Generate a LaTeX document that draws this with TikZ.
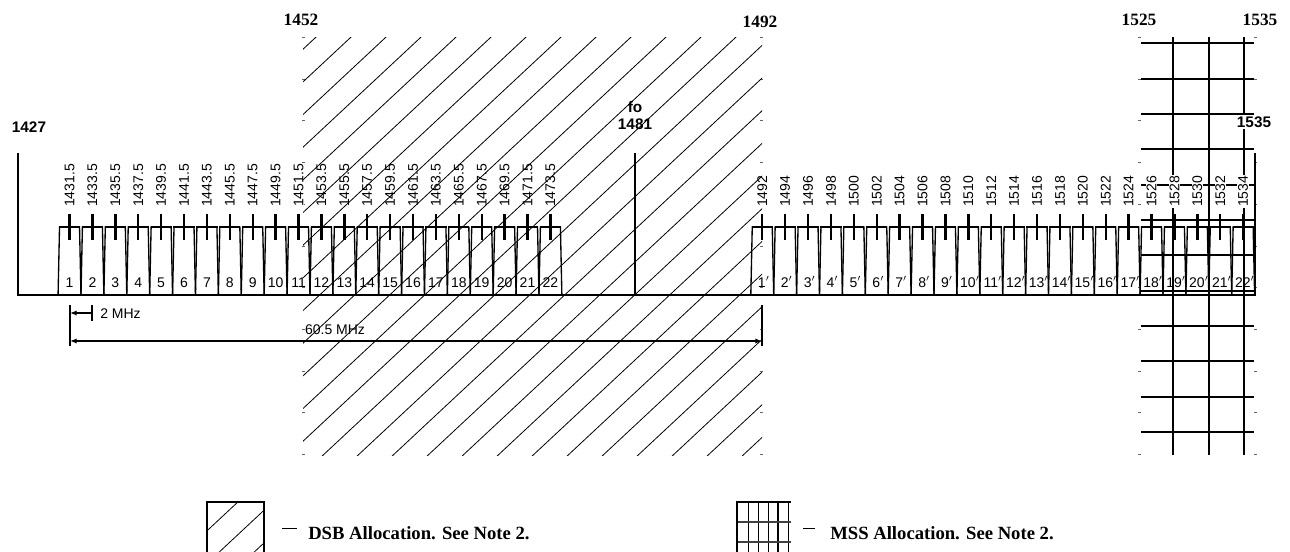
\documentclass[tikz,border=0pt]{standalone}
\usepackage{fontspec}
\setmainfont{Liberation Serif}
\setsansfont{Liberation Sans}
\usetikzlibrary{arrows.meta}
\begin{document}
\begin{tikzpicture}[x=0.75pt,y=-0.75pt,
  axisln/.style={line width=2.2pt},
  boxside/.style={line width=1pt},
  boxtop/.style={line width=1.6pt},
  tickln/.style={line width=1.8pt},
  gridln/.style={line width=0.9pt},
  hatchln/.style={line width=0.6pt},
  tilemark/.style={line width=0.6pt, black!60},
  freq/.style={font=\sffamily\fontsize{10.5}{12}\selectfont, rotate=90, anchor=west, inner sep=0.6pt, fill=white},
  chnum/.style={font=\sffamily\fontsize{10.5}{12}\selectfont, inner sep=0pt, anchor=base},
  sbold/.style={font=\sffamily\bfseries\fontsize{11.5}{12.75}\selectfont, align=center, inner sep=1pt},
  toplbl/.style={font=\bfseries\fontsize{13}{15}\selectfont, inner sep=0pt},
  dimtext/.style={font=\sffamily\fontsize{10.5}{12}\selectfont, inner sep=0pt},
  legtext/.style={font=\bfseries\fontsize{14}{16}\selectfont, anchor=west, inner sep=0pt},
  dimln/.style={line width=1.6pt},
]
\useasboundingbox (0,0) rectangle (1290,551);
\clip (0,0) rectangle (1290,551);
\newcommand{\myhatch}{%
  \foreach \k in {-3,...,27} {
    \draw[hatchln] ({410+35*\k},-18) -- ({350+35*\k-620},616.67);
  }%
}
% MSS grid
\foreach \y in {43,79,114,149,185,220,255,291,326,361,397,432}
  \draw[gridln] (1141,\y) -- (1254,\y);
\foreach \x in {1173,1209,1244}
  \draw[gridln] (\x,37) -- (\x,455);
% tile marks
\foreach \y in {37,79,120,162,204,246,287,329,371,412,454} {
  \draw[tilemark] (302,\y) -- (305,\y);
  \draw[tilemark] (760,\y) -- (763,\y);
  \draw[tilemark] (1138,\y) -- (1141,\y);
  \draw[tilemark] (1254,\y) -- (1257,\y);
}
% axes
\coordinate (bl) at (18,295);
\coordinate (br) at (1255,295);
\draw[axisln] (18,153) -- (bl) -- (br) -- (1255,153);
\draw[line width=1.8pt] (635,153) -- (635,295);
% left channels
\foreach \i in {1,...,22} {
  \pgfmathsetmacro\xc{18+(2.5+2*\i)*11.45}
  \draw[boxside] (\xc-11.45,295) -- (\xc-10,227) -- (\xc+10,227) -- (\xc+11.45,295);
  \draw[boxtop] (\xc-10.6,227) -- (\xc+10.6,227);
  \draw[tickln] (\xc,214) -- (\xc,240);
  \node[freq] (fl\i) at (\xc,208) {\the\numexpr1429+2*\i\relax.5};
  \node[chnum] (nl\i) at (\xc,287) {\i};
}
% right channels
\foreach \i in {1,...,22} {
  \pgfmathsetmacro\xc{18+(63+2*\i)*11.45}
  \draw[boxside] (\xc-11.45,295) -- (\xc-10,227) -- (\xc+10,227) -- (\xc+11.45,295);
  \draw[boxtop] (\xc-10.6,227) -- (\xc+10.6,227);
  \draw[tickln] (\xc,214) -- (\xc,240);
  \node[freq] (fr\i) at (\xc,208) {\the\numexpr1490+2*\i\relax};
  \node[chnum] (nr\i) at (\xc+1.5,287) {\i$'$};
}
% labels
\node[toplbl] (t1452) at (301,20) {1452};
\node[toplbl] (t1492) at (760,22) {1492};
\node[toplbl] (t1525) at (1139,20) {1525};
\node[toplbl] (t1535) at (1260,20) {1535};
\node[sbold] (l1427) at (29,127) {1427};
\node[sbold] (lfo) at (635,116) {fo\\1481};
\node[sbold, fill=white] (l1535) at (1254,122) {1535};
% dimensions
\coordinate (d2a) at (70,313);
\coordinate (d2b) at (92,313);
\draw[line width=1.6pt] (70,305) -- (70,346);
\draw[line width=1.6pt] (92,305) -- (92,321);
\draw[dimln, {Latex[length=5pt,width=4pt]}-] (d2a) -- (d2b);
\node[dimtext, anchor=west] (t2) at (100,314) {2 MHz};
\coordinate (d6a) at (70,341);
\coordinate (d6b) at (762,341);
\draw[line width=1.6pt] (762,305) -- (762,346);
\draw[dimln, {Latex[length=5pt,width=4pt]}-{Latex[length=5pt,width=4pt]}] (d6a) -- (d6b);
\node[dimtext] (t60) at (335,330) {60.5 MHz};
% DSB hatching on top
\begin{scope}
  \clip (303,37) rectangle (762,455);
  \myhatch
\end{scope}
% legend DSB
\begin{scope}
  \clip (207,502) rectangle (264,560);
  \myhatch
\end{scope}
\draw[line width=1.1pt] (207,560) -- (207,502) -- (264,502) -- (264,560);
\draw[line width=0.7pt] (282,528) -- (297,528);
\node[legtext] (leg1) at (308,533) {DSB Allocation. See Note 2.};
% legend MSS
\foreach \x in {748,758,768,788} \draw[line width=0.7pt] (\x,502) -- (\x,560);
\draw[line width=1.3pt] (778,502) -- (778,560);
\foreach \y in {522,542} \draw[line width=0.8pt, black!75] (737,\y) -- (791,\y);
\draw[line width=1.3pt] (737,560) -- (737,502) -- (791,502);
\draw[line width=0.7pt] (803,528) -- (815,528);
\node[legtext] (leg2) at (830,533) {MSS Allocation. See Note 2.};
\end{tikzpicture}
\end{document}
